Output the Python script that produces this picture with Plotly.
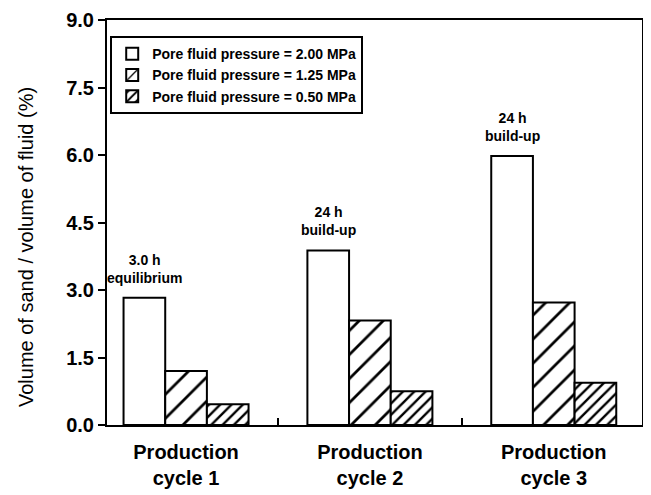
import plotly.graph_objects as go

# ---- data ----
cycle_labels = ["Production<br>cycle 1", "Production<br>cycle 2", "Production<br>cycle 3"]
cycle_pos = [0, 1, 2]
sand_200 = [2.83, 3.88, 5.98]
sand_125 = [1.20, 2.32, 2.72]
sand_050 = [0.46, 0.75, 0.94]
series_names = ["Pore fluid pressure = 2.00 MPa",
                "Pore fluid pressure = 1.25 MPa",
                "Pore fluid pressure = 0.50 MPa"]
note_text = ["3.0 h<br>equilibrium", "24 h<br>build-up", "24 h<br>build-up"]
y_ticks = [0.0, 1.5, 3.0, 4.5, 6.0, 7.5, 9.0]
y_ticktext = ["0.0", "1.5", "3.0", "4.5", "6.0", "7.5", "9.0"]
y_title = "Volume of sand / volume of fluid (%)"

FONT = "Liberation Sans, Arial, sans-serif"
BARGAP = 0.32

fig = go.Figure()
patterns = [dict(shape=""),
            dict(shape="/", size=17, solidity=0.16, fgcolor="black", bgcolor="white", fgopacity=1),
            dict(shape="/", size=8, solidity=0.3, fgcolor="black", bgcolor="white", fgopacity=1)]
for name, vals, pat in zip(series_names, [sand_200, sand_125, sand_050], patterns):
    fig.add_trace(go.Bar(
        x=cycle_pos, y=vals, name=name,
        marker=dict(color="white", line=dict(color="black", width=2), pattern=pat),
    ))

# annotations above the 2.00 MPa bars
first_bar_offset = -(1 - BARGAP) / 2 + (1 - BARGAP) / 6
for xi, yv, txt in zip(cycle_pos, sand_200, note_text):
    fig.add_annotation(x=xi + first_bar_offset, y=yv, xref="x", yref="y",
                       text=txt, showarrow=False, yanchor="bottom", yshift=10,
                       font=dict(family=FONT, size=14, color="black", weight="bold"))

# y-axis title as rotated annotation
fig.add_annotation(x=-0.151, y=0.44, xref="paper", yref="paper", text=y_title,
                   showarrow=False, textangle=-90, xanchor="center", yanchor="middle",
                   font=dict(family=FONT, size=20, color="black"))

fig.update_layout(
    width=643, height=487,
    margin=dict(l=99, r=9, t=12, b=70),
    paper_bgcolor="white", plot_bgcolor="white",
    barmode="group", bargap=BARGAP, bargroupgap=0,
    font=dict(family=FONT, color="black"),
    legend=dict(x=0.006, y=0.96, xanchor="left", yanchor="top",
                bordercolor="black", borderwidth=2, bgcolor="white",
                font=dict(family=FONT, size=14, color="black", weight="bold"),
                itemwidth=30, tracegroupgap=0),
    showlegend=True,
)
fig.update_xaxes(
    range=[-0.43, 2.48], tickmode="array", tickvals=cycle_pos, ticktext=cycle_labels,
    ticks="", showline=True, linecolor="black", linewidth=2, mirror=True,
    showgrid=False, zeroline=False, automargin=False, ticklabelstandoff=8,
    tickfont=dict(family=FONT, size=20, color="black", weight="bold"),
    minor=dict(tickmode="array", tickvals=[0.5, 1.5], ticks="inside", ticklen=7,
               tickwidth=2, tickcolor="black", showgrid=False),
)
fig.update_yaxes(
    range=[0, 9.0], tickmode="array", tickvals=y_ticks, ticktext=y_ticktext,
    ticks="outside", ticklen=7, tickwidth=2, tickcolor="black",
    showline=True, linecolor="black", linewidth=2, mirror=True,
    showgrid=False, zeroline=False, automargin=False, ticklabeloverflow="allow",
    tickfont=dict(family=FONT, size=20, color="black", weight="bold"),
)

fig.write_html("out.html")
